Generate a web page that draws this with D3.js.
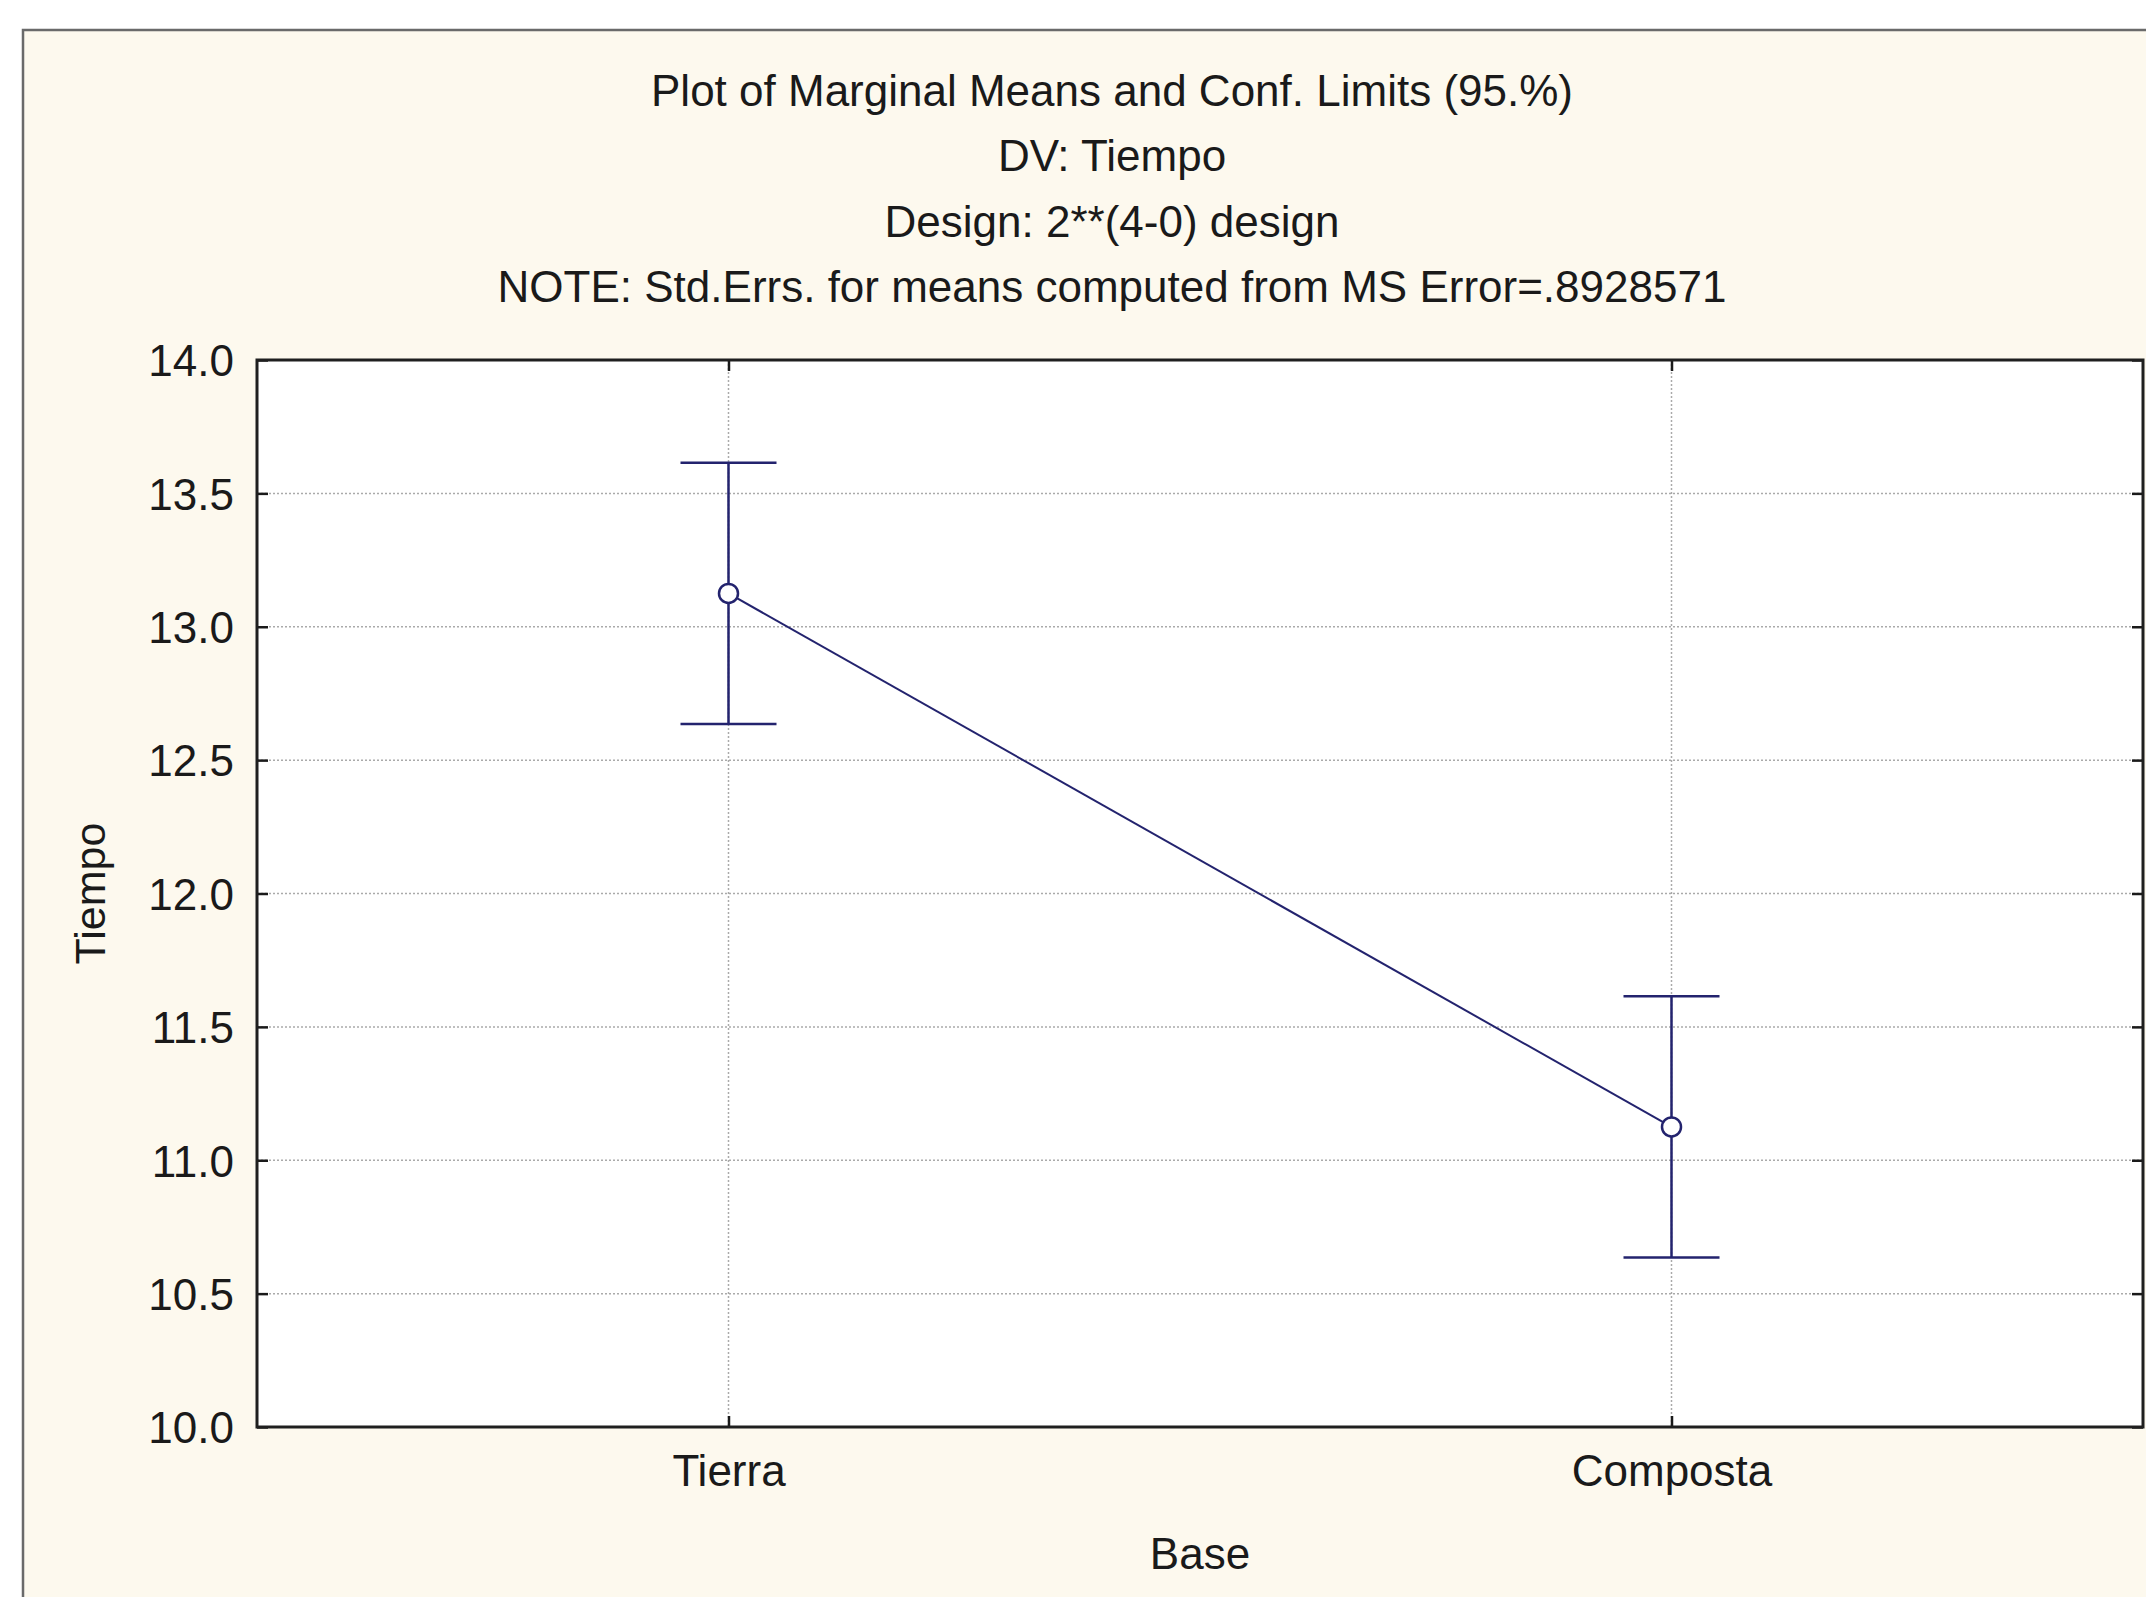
<!DOCTYPE html>
<html><head><meta charset="utf-8">
<script src="https://cdn.jsdelivr.net/npm/d3@7"></script>
<style>
html,body{margin:0;padding:0;background:#ffffff;}
svg{display:block;}
text{font-family:"Liberation Sans",Arial,sans-serif;fill:#1a1a1a;}
</style></head>
<body>
<script>
const titleLines = ["Plot of Marginal Means and Conf. Limits (95.%)","DV: Tiempo","Design: 2**(4-0) design","NOTE: Std.Errs. for means computed from MS Error=.8928571"];
const categories = ["Tierra","Composta"];
const means = [13.125, 11.125];
const upper = [13.615, 11.615];
const lower = [12.635, 10.635];
const yTicks = [10.0,10.5,11.0,11.5,12.0,12.5,13.0,13.5,14.0];
const xLabel = "Base";
const yLabel = "Tiempo";

const W = 2146, H = 1597;
const m = {left:257, top:360, right:3, bottom:170};
const pw = W - m.left - m.right, ph = H - m.top - m.bottom;
const navy = "#23236e";

const svg = d3.select("body").append("svg").attr("width",W).attr("height",H);
svg.append("rect").attr("x",23).attr("y",30).attr("width",W).attr("height",H)
  .attr("fill","#fdf9ee").attr("stroke","#6a6a6a").attr("stroke-width",2.5);

const ty = [90,155,221,286];
svg.selectAll("text.title").data(titleLines).join("text").attr("class","title")
  .attr("x",1112).attr("y",(d,i)=>ty[i]).attr("text-anchor","middle")
  .attr("dominant-baseline","central").attr("font-size",44).text(d=>d);

const g = svg.append("g").attr("transform",`translate(${m.left},${m.top})`);
const x = d3.scalePoint().domain(categories).range([0,pw]).padding(0.5);
const y = d3.scaleLinear().domain([10,14]).range([ph,0]);

g.append("rect").attr("width",pw).attr("height",ph).attr("fill","#ffffff");

g.selectAll("line.hg").data(yTicks.slice(1,-1)).join("line").attr("class","hg")
  .attr("x1",0).attr("x2",pw).attr("y1",d=>y(d)).attr("y2",d=>y(d))
  .attr("stroke","#aaaaaa").attr("stroke-width",1.5).attr("stroke-dasharray","2,2");
g.selectAll("line.vg").data(categories).join("line").attr("class","vg")
  .attr("y1",0).attr("y2",ph).attr("x1",d=>x(d)).attr("x2",d=>x(d))
  .attr("stroke","#aaaaaa").attr("stroke-width",1.5).attr("stroke-dasharray","2,2");

const yAxL = d3.axisLeft(y).tickValues(yTicks).tickFormat(d3.format(".1f")).tickSizeInner(-11).tickSizeOuter(0).tickPadding(23);
const yAxR = d3.axisRight(y).tickValues(yTicks).tickFormat("").tickSizeInner(-11).tickSizeOuter(0);
const xAxB = d3.axisBottom(x).tickSizeInner(-11).tickSizeOuter(0).tickPadding(28);
const xAxT = d3.axisTop(x).tickFormat("").tickSizeInner(-11).tickSizeOuter(0);
function style(sel){
  sel.select(".domain").remove();
  sel.selectAll(".tick line").attr("stroke","#1a1a1a").attr("stroke-width",2.5);
  sel.selectAll(".tick text").attr("font-size",44).attr("fill","#1a1a1a")
    .attr("font-family","Liberation Sans, Arial, sans-serif");
}
g.append("g").call(yAxL).call(style).selectAll(".tick text").attr("dy","0.36em");
g.append("g").attr("transform",`translate(${pw},0)`).call(yAxR).call(style);
g.append("g").attr("transform",`translate(0,${ph})`).call(xAxB).call(style);
g.append("g").call(xAxT).call(style);

g.append("rect").attr("width",pw).attr("height",ph).attr("fill","none")
  .attr("stroke","#1f1f1f").attr("stroke-width",3);

const data = categories.map((c,i)=>({c,mean:means[i],hi:upper[i],lo:lower[i]}));
const capW = 48;
const eb = g.selectAll("g.eb").data(data).join("g").attr("class","eb");
eb.append("line").attr("x1",d=>x(d.c)).attr("x2",d=>x(d.c)).attr("y1",d=>y(d.hi)).attr("y2",d=>y(d.lo))
  .attr("stroke",navy).attr("stroke-width",2.5);
eb.append("line").attr("x1",d=>x(d.c)-capW).attr("x2",d=>x(d.c)+capW).attr("y1",d=>y(d.hi)).attr("y2",d=>y(d.hi))
  .attr("stroke",navy).attr("stroke-width",2.5);
eb.append("line").attr("x1",d=>x(d.c)-capW).attr("x2",d=>x(d.c)+capW).attr("y1",d=>y(d.lo)).attr("y2",d=>y(d.lo))
  .attr("stroke",navy).attr("stroke-width",2.5);

g.append("path").datum(data).attr("fill","none").attr("stroke",navy).attr("stroke-width",2)
  .attr("d",d3.line().x(d=>x(d.c)).y(d=>y(d.mean)));
g.selectAll("circle.pt").data(data).join("circle").attr("class","pt")
  .attr("cx",d=>x(d.c)).attr("cy",d=>y(d.mean)).attr("r",9.5)
  .attr("fill","#ffffff").attr("stroke",navy).attr("stroke-width",2.5);

svg.append("text").attr("x",m.left+pw/2).attr("y",1553).attr("text-anchor","middle")
  .attr("dominant-baseline","central").attr("font-size",44).text(xLabel);
svg.append("text").attr("transform",`translate(90,${m.top+ph/2}) rotate(-90)`).attr("text-anchor","middle")
  .attr("dominant-baseline","central").attr("font-size",43).text(yLabel);
</script>
</body></html>
